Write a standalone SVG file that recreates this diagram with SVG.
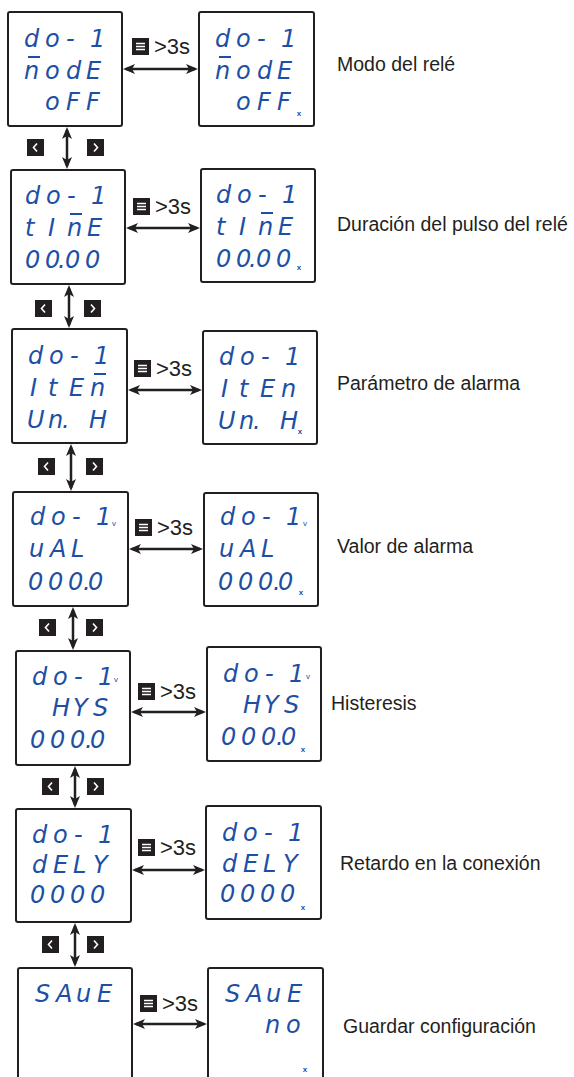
<svg xmlns="http://www.w3.org/2000/svg" width="574" height="1077" viewBox="0 0 574 1077">
<style>
.box{fill:#fff;stroke:#231f20;stroke-width:2}
.seg{font-family:"DejaVu Sans",sans-serif;font-style:italic;font-size:24px;fill:#1d4fa5}
.ov{stroke:#1d4fa5;stroke-width:2}
.mk{font-family:"Liberation Sans",Arial,sans-serif;font-size:8px;font-weight:bold;fill:#1d4fa5;text-anchor:middle}
.vv{font-family:"Liberation Sans",Arial,sans-serif;font-size:8px;fill:#1d4fa5}
.lbl{font-family:"Liberation Sans",Arial,sans-serif;font-size:19.5px;fill:#231f20}
.t3s{font-family:"Liberation Sans",Arial,sans-serif;font-size:22px;fill:#231f20}
.conn{stroke:#231f20;stroke-width:2.5;fill:none;marker-start:url(#ah);marker-end:url(#ah)}
.btn{fill:#231f20}
.ic{stroke:#fff;stroke-width:1.6;fill:none}
</style>
<defs>
<marker id="ah" viewBox="0 0 12 10" refX="9" refY="5" markerWidth="12" markerHeight="10" markerUnits="userSpaceOnUse" orient="auto-start-reverse">
<path d="M0,0 L12,5 L0,10 L3,5 Z" fill="#231f20"/>
</marker>
<g id="menu"><rect class="btn" width="17" height="17"/><path class="ic" d="M4,5.5H13M4,8.5H13M4,11.5H13"/></g>
<g id="prev"><rect class="btn" width="17" height="17"/><path class="ic" d="M10,4.5L6.5,8.5L10,12.5"/></g>
<g id="next"><rect class="btn" width="17" height="17"/><path class="ic" d="M7,4.5L10.5,8.5L7,12.5"/></g>
</defs>

<g id="connectors">
<line class="conn" x1="126" y1="69" x2="195" y2="69"/>
<line class="conn" x1="129" y1="228" x2="197" y2="228"/>
<line class="conn" x1="131" y1="390" x2="199" y2="390"/>
<line class="conn" x1="132" y1="549" x2="200" y2="549"/>
<line class="conn" x1="134" y1="712" x2="203" y2="712"/>
<line class="conn" x1="135" y1="870" x2="202" y2="870"/>
<line class="conn" x1="136" y1="1024" x2="204" y2="1024"/>
<line class="conn" x1="67" y1="130" x2="67" y2="166"/>
<line class="conn" x1="69" y1="288" x2="69" y2="325"/>
<line class="conn" x1="71" y1="447" x2="71" y2="488"/>
<line class="conn" x1="73" y1="610" x2="73" y2="647"/>
<line class="conn" x1="75" y1="769" x2="75" y2="805"/>
<line class="conn" x1="75" y1="926" x2="75" y2="964"/>
</g>

<g id="buttons">
<use href="#menu" x="132" y="38"/><text class="t3s" x="154" y="54">&gt;3s</text>
<use href="#menu" x="133" y="198"/><text class="t3s" x="155" y="214">&gt;3s</text>
<use href="#menu" x="134" y="360"/><text class="t3s" x="156" y="376">&gt;3s</text>
<use href="#menu" x="135" y="519"/><text class="t3s" x="157" y="535">&gt;3s</text>
<use href="#menu" x="138" y="683"/><text class="t3s" x="160" y="699">&gt;3s</text>
<use href="#menu" x="138" y="839"/><text class="t3s" x="160" y="855">&gt;3s</text>
<use href="#menu" x="140" y="995"/><text class="t3s" x="162" y="1011">&gt;3s</text>
<use href="#prev" x="27" y="139"/><use href="#next" x="87" y="139"/>
<use href="#prev" x="35" y="300"/><use href="#next" x="84" y="300"/>
<use href="#prev" x="38" y="458"/><use href="#next" x="86" y="458"/>
<use href="#prev" x="39" y="619"/><use href="#next" x="86" y="619"/>
<use href="#prev" x="42" y="778"/><use href="#next" x="87" y="778"/>
<use href="#prev" x="42" y="936"/><use href="#next" x="87" y="936"/>
</g>

<g id="labels">
<text class="lbl" x="337" y="71">Modo del relé</text>
<text class="lbl" x="337" y="231">Duración del pulso del relé</text>
<text class="lbl" x="337" y="390">Parámetro de alarma</text>
<text class="lbl" x="337" y="553">Valor de alarma</text>
<text class="lbl" x="331" y="710">Histeresis</text>
<text class="lbl" x="340" y="870">Retardo en la conexión</text>
<text class="lbl" x="343" y="1033">Guardar configuración</text>
</g>

<g id="mode-view">
<rect class="box" x="8" y="12" width="114" height="114" rx="2"/>
<text class="seg" x="24 45 66 90" y="47">do-1</text>
<text class="seg" x="24 45 66 86" y="79">nodE</text>
<line class="ov" x1="28" y1="57" x2="40" y2="57"/>
<text class="seg" x="45 66 86" y="110">oFF</text>
</g>
<g id="mode-edit">
<rect class="box" x="199" y="12" width="115" height="114" rx="2"/>
<text class="seg" x="215 236 257 281" y="47">do-1</text>
<text class="seg" x="215 236 257 277" y="79">nodE</text>
<line class="ov" x1="219" y1="57" x2="231" y2="57"/>
<text class="seg" x="236 257 277" y="110">oFF</text>
<text class="mk" x="299" y="116">x</text>
</g>

<g id="time-view">
<rect class="box" x="11" y="170" width="114" height="114" rx="2"/>
<text class="seg" x="25 46 67 91" y="204">do-1</text>
<text class="seg" x="25 48 67 87" y="236">tInE</text>
<line class="ov" x1="70" y1="214" x2="82" y2="214"/>
<text class="seg" x="25 45 58 65 85" y="268">00.00</text>
</g>
<g id="time-edit">
<rect class="box" x="201" y="169" width="114" height="113" rx="2"/>
<text class="seg" x="216 237 258 282" y="203">do-1</text>
<text class="seg" x="216 239 258 278" y="235">tInE</text>
<line class="ov" x1="261" y1="213" x2="273" y2="213"/>
<text class="seg" x="216 236 249 256 276" y="267">00.00</text>
<text class="mk" x="299" y="270">x</text>
</g>

<g id="item-view">
<rect class="box" x="12" y="329" width="115" height="114" rx="2"/>
<text class="seg" x="28 49 70 94" y="364">do-1</text>
<text class="seg" x="30 48 69 90" y="396">ItEn</text>
<line class="ov" x1="94" y1="374" x2="106" y2="374"/>
<text class="seg" x="27 48 62 89" y="428">Un.H</text>
</g>
<g id="item-edit">
<rect class="box" x="203" y="331" width="114" height="113" rx="2"/>
<text class="seg" x="219 240 261 285" y="365">do-1</text>
<text class="seg" x="221 239 260 281" y="397">ItEn</text>
<text class="seg" x="218 239 253 280" y="429">Un.H</text>
<text class="mk" x="300" y="434">x</text>
</g>

<g id="val-view">
<rect class="box" x="13" y="492" width="115" height="114" rx="2"/>
<text class="seg" x="30 51 72 96" y="525">do-1</text>
<text class="vv" x="112" y="526">v</text>
<text class="seg" x="29 50 71" y="557">uAL</text>
<text class="seg" x="28 48 68 83 88" y="590">000.0</text>
</g>
<g id="val-edit">
<rect class="box" x="204" y="493" width="114" height="113" rx="2"/>
<text class="seg" x="220 241 262 286" y="525">do-1</text>
<text class="vv" x="303" y="526">v</text>
<text class="seg" x="219 240 261" y="557">uAL</text>
<text class="seg" x="218 238 258 273 278" y="590">000.0</text>
<text class="mk" x="301" y="595">x</text>
</g>

<g id="hys-view">
<rect class="box" x="16" y="651" width="114" height="114" rx="2"/>
<text class="seg" x="32 53 74 98" y="685">do-1</text>
<text class="vv" x="114" y="682">v</text>
<text class="seg" x="52 73 93" y="716">HYS</text>
<text class="seg" x="30 50 70 85 90" y="748">000.0</text>
</g>
<g id="hys-edit">
<rect class="box" x="207" y="647" width="114" height="114" rx="2"/>
<text class="seg" x="223 244 265 289" y="682">do-1</text>
<text class="vv" x="306" y="679">v</text>
<text class="seg" x="243 264 284" y="713">HYS</text>
<text class="seg" x="221 241 261 276 281" y="745">000.0</text>
<text class="mk" x="303" y="752">x</text>
</g>

<g id="dely-view">
<rect class="box" x="16" y="809" width="115" height="113" rx="2"/>
<text class="seg" x="32 53 74 98" y="843">do-1</text>
<text class="seg" x="32 53 73 93" y="873">dELY</text>
<text class="seg" x="30 50 70 90" y="903">0000</text>
</g>
<g id="dely-edit">
<rect class="box" x="206" y="806" width="115" height="113" rx="2"/>
<text class="seg" x="222 243 264 288" y="841">do-1</text>
<text class="seg" x="222 243 263 283" y="872">dELY</text>
<text class="seg" x="220 240 260 280" y="902">0000</text>
<text class="mk" x="303" y="910">x</text>
</g>

<g id="save-view">
<rect class="box" x="18" y="968" width="114" height="120" rx="2"/>
<text class="seg" x="35 56 76 97" y="1002">SAuE</text>
</g>
<g id="save-edit">
<rect class="box" x="208" y="968" width="115" height="120" rx="2"/>
<text class="seg" x="225 246 266 287" y="1002">SAuE</text>
<text class="seg" x="265 286" y="1033">no</text>
<text class="mk" x="305" y="1072">x</text>
</g>
</svg>
